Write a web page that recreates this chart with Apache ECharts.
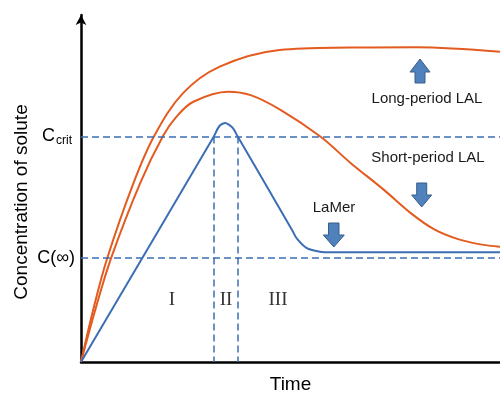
<!DOCTYPE html>
<html>
<head>
<meta charset="utf-8">
<script src="https://cdn.jsdelivr.net/npm/echarts@6/dist/echarts.min.js"></script>
<style>
  html, body { margin: 0; padding: 0; background: #fff; }
  #chart { width: 500px; height: 394px; }
</style>
</head>
<body>
<div id="chart"></div>
<script>
// Characteristic concentration levels
const C_CRIT = 65;
const C_INF = 30;

// Stage boundaries: where the LaMer curve crosses C_crit
const stageBounds = [31.7, 37.4];
const stageNames = ['I', 'II', 'III'];

// LaMer curve (time, concentration)
const lamerT = [0, 31.7, 32.7, 33.4, 34.4, 35.3, 36.3, 37.4, 50.4, 51.5, 53.9, 57.0, 59.4, 100];
const lamerC = [0, 65, 67.4, 68.4, 68.9, 68.4, 67.3, 65, 38.0, 35.6, 32.8, 31.8, 31.6, 31.6];

// Long-period LAL curve
const longT = [0, 2.9, 6.2, 12.5, 17.5, 24.3, 33.1, 47.4, 64.0, 80.0, 100];
const longC = [0, 15.0, 29.7, 51.5, 65.2, 77.4, 85.1, 89.9, 90.6, 90.7, 89.4];

// Short-period LAL curve
const shortT = [0, 3.4, 7.2, 14.1, 19.6, 22.8, 26.8, 35.1, 40.5, 47.7, 57.2, 64.4, 72.3, 78.7, 84.2, 90.0, 95.3, 100];
const shortC = [0, 15.0, 30.0, 51.5, 65.2, 70.7, 75.0, 77.9, 76.9, 72.6, 64.9, 57.3, 49.6, 42.9, 38.3, 35.4, 33.9, 33.2];

const zip = (a, b) => a.map((v, i) => [v, b[i]]);

const BLUE = '#3B6EB4';
const ORANGE = '#E35B1F';
const ARROW_FILL = '#4F81BD';
const ARROW_EDGE = '#385D8A';
const SANS = 'Arial, "Liberation Sans", sans-serif';
const SERIF = '"Times New Roman", "Liberation Serif", serif';

const dash = { color: BLUE, width: 1.5, type: [7, 4] };

function arrow(points) {
  return {
    type: 'polygon',
    shape: { points: points },
    style: { fill: ARROW_FILL, stroke: ARROW_EDGE, lineWidth: 1 },
    z: 10
  };
}
function label(text, x, y, font, color) {
  return {
    type: 'text',
    x: x, y: y,
    style: { text: text, font: font, fill: color || '#1a1a1a', align: 'center', verticalAlign: 'middle', textAlign: 'center', textVerticalAlign: 'middle' },
    z: 10
  };
}

const chart = echarts.init(document.getElementById('chart'));
chart.setOption({
  animation: false,
  grid: { left: 81, right: 0, top: 15, bottom: 32, containLabel: false, outerBoundsMode: 'none' },
  xAxis: {
    type: 'value', min: 0, max: 100,
    name: 'Time', nameLocation: 'middle', nameGap: 13,
    nameTextStyle: { fontFamily: SANS, fontSize: 19, color: '#000' },
    axisLine: { show: true, lineStyle: { color: '#000', width: 2.5 } },
    axisTick: { show: false }, axisLabel: { show: false }, splitLine: { show: false }
  },
  yAxis: {
    type: 'value', min: 0, max: 100,
    axisLine: { show: true, symbol: ['none', 'arrow'], symbolSize: [8, 10], lineStyle: { color: '#000', width: 2.5 } },
    axisTick: { show: false }, splitLine: { show: false },
    axisLabel: {
      show: true,
      customValues: [C_INF, C_CRIT],
      margin: 6,
      formatter: v => (v === C_CRIT ? '{c|C}{s|crit}' : '{c|C(∞)}'),
      rich: {
        c: { fontFamily: SANS, fontSize: 18, color: '#000' },
        s: { fontFamily: SANS, fontSize: 12, color: '#000', verticalAlign: 'bottom', padding: [9, 3, 0, 1] }
      }
    }
  },
  series: [
    {
      type: 'line', data: [], silent: true, z: 1,
      markLine: {
        silent: true, symbol: 'none', label: { show: false },
        lineStyle: dash,
        data: [
          [{ coord: [0, C_CRIT] }, { coord: [100, C_CRIT] }],
          [{ coord: [0, C_INF] }, { coord: [100, C_INF] }],
          [{ coord: [stageBounds[0], C_CRIT] }, { coord: [stageBounds[0], 0] }],
          [{ coord: [stageBounds[1], C_CRIT] }, { coord: [stageBounds[1], 0] }]
        ]
      }
    },
    {
      name: 'Long-period LAL', type: 'line', data: zip(longT, longC),
      smooth: 0.35, showSymbol: false, z: 3,
      lineStyle: { color: ORANGE, width: 2 }
    },
    {
      name: 'Short-period LAL', type: 'line', data: zip(shortT, shortC),
      smooth: 0.35, showSymbol: false, z: 3,
      lineStyle: { color: ORANGE, width: 2 }
    },
    {
      name: 'LaMer', type: 'line', data: zip(lamerT, lamerC),
      smooth: 0.35, showSymbol: false, z: 3,
      lineStyle: { color: BLUE, width: 2 }
    }
  ],
  graphic: [
    {
      type: 'text', x: 22, y: 202, rotation: Math.PI / 2,
      style: { text: 'Concentration of solute', font: '19px ' + SANS, fill: '#000', align: 'center', verticalAlign: 'middle', textAlign: 'center', textVerticalAlign: 'middle' }
    },
    label('Long-period LAL', 427, 99, '15px ' + SANS),
    label('Short-period LAL', 428, 158, '15px ' + SANS),
    label('LaMer', 334, 208, '15px ' + SANS),
    label(stageNames[0], 172, 300, '19px ' + SERIF, '#333'),
    label(stageNames[1], 226, 300, '19px ' + SERIF, '#333'),
    label(stageNames[2], 278, 300, '19px ' + SERIF, '#333'),
    // up arrow (long-period)
    arrow([[420, 59], [430, 72], [425, 72], [425, 83], [415, 83], [415, 72], [410, 72]]),
    // down arrow (short-period)
    arrow([[416.7, 183], [426.7, 183], [426.7, 195], [431.7, 195], [421.7, 207], [411.7, 195], [416.7, 195]]),
    // down arrow (LaMer)
    arrow([[328.5, 223], [339, 223], [339, 235], [344.3, 235], [333.8, 247], [323.3, 235], [328.5, 235]])
  ]
});
</script>
</body>
</html>
